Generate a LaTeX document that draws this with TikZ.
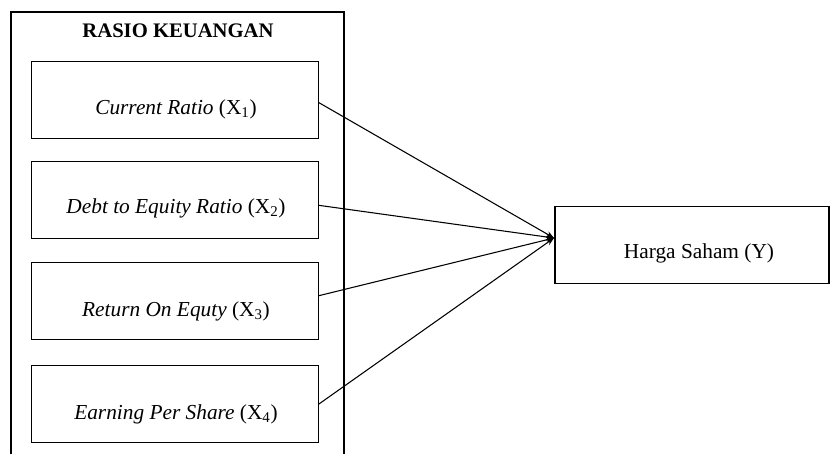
\documentclass[tikz,border=0pt]{standalone}
\usepackage{fontspec}
\setmainfont{Liberation Serif}
\usetikzlibrary{arrows.meta}
\tikzset{
  kotak/.style={draw, line width=0.9pt, minimum width=215pt, minimum height=58pt, inner sep=0pt},
  teks/.style={font=\fontsize{16}{19}\selectfont, inner sep=0pt},
  panah/.style={line width=0.8pt, -{Stealth[length=6pt,width=4.5pt]}}
}
\begin{document}
\begin{tikzpicture}[x=0.75pt, y=-0.75pt]
\useasboundingbox (0,0) rectangle (831,454);

% kotak rasio keuangan
\draw[line width=0.9pt] (11,454) -- (11,12) -- (344,12) -- (344,454);
\node[teks, font=\fontsize{15.5}{18}\selectfont\bfseries] (judul) at (178,31) {RASIO KEUANGAN};

\node[kotak] (x1) at (175,100) {};
\node[kotak] (x2) at (175,200) {};
\node[kotak] (x3) at (175,301) {};
\node[kotak] (x4) at (175,404) {};

\node[teks] (t1) at (176,109) {\textit{Current Ratio} (X\textsubscript{1})};
\node[teks] (t2) at (176,208) {\textit{Debt to Equity Ratio} (X\textsubscript{2})};
\node[teks] (t3) at (176,311) {\textit{Return On Equty} (X\textsubscript{3})};
\node[teks] (t4) at (176,414) {\textit{Earning Per Share} (X\textsubscript{4})};

% variabel terikat
\node[kotak, minimum width=205.5pt] (y) at (692,245) {};
\node[teks] (ty) at (699,253) {Harga Saham (Y)};
\coordinate (ujung) at (554,238);

\draw[panah] ([yshift=-2pt]x1.east) -- (ujung);
\draw[panah] ([yshift=-4pt]x2.east) -- (ujung);
\draw[panah] ([yshift=4pt]x3.east) -- (ujung);
\draw[panah] (x4.east) -- (ujung);

\end{tikzpicture}
\end{document}
